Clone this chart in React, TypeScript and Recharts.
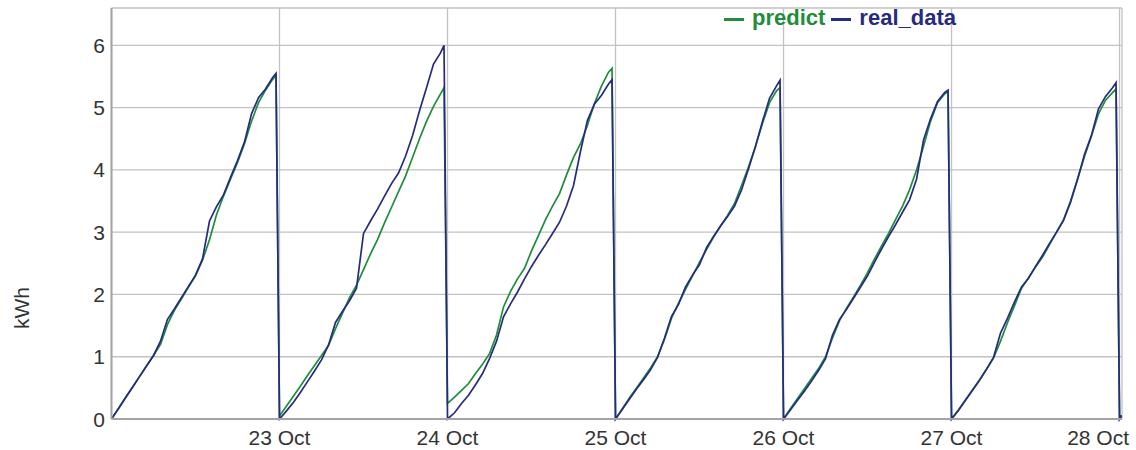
import { LineChart, Line, XAxis, YAxis, CartesianGrid } from "recharts";

// hours into each day where a reading was taken (last one just before midnight)
const hourOffsets = [
  0, 1, 2, 3, 4, 5, 6, 7, 8, 9, 10, 11, 12, 13, 14, 15, 16, 17, 18, 19, 20, 21,
  22, 23, 23.5,
];
const dayStarts = [0, 24, 48, 72, 96, 120];

const predict22 = [0, 0.17, 0.34, 0.51, 0.68, 0.85, 1.02, 1.2, 1.52, 1.75, 1.93, 2.12, 2.3, 2.55, 2.88, 3.28, 3.58, 3.85, 4.12, 4.42, 4.78, 5.08, 5.28, 5.45, 5.52];
const predict23 = [0.05, 0.21, 0.37, 0.53, 0.7, 0.86, 1.02, 1.18, 1.45, 1.7, 1.95, 2.15, 2.4, 2.65, 2.88, 3.15, 3.4, 3.65, 3.9, 4.2, 4.5, 4.78, 5.02, 5.22, 5.32];
const predict24 = [0.25, 0.35, 0.46, 0.57, 0.73, 0.88, 1.05, 1.35, 1.8, 2.05, 2.25, 2.42, 2.7, 2.95, 3.2, 3.42, 3.62, 3.92, 4.2, 4.42, 4.72, 5.07, 5.35, 5.57, 5.63];
const predict25 = [0, 0.17, 0.34, 0.5, 0.66, 0.82, 1.0, 1.28, 1.62, 1.86, 2.08, 2.3, 2.52, 2.72, 2.92, 3.1, 3.27, 3.46, 3.75, 4.05, 4.38, 4.75, 5.08, 5.27, 5.32];
const predict26 = [0, 0.17, 0.33, 0.49, 0.65, 0.81, 1.0, 1.3, 1.58, 1.78, 1.96, 2.15, 2.35, 2.57, 2.78, 2.98, 3.2, 3.42, 3.68, 4.0, 4.38, 4.78, 5.08, 5.22, 5.26];
const predict27 = [0, 0.15, 0.31, 0.47, 0.63, 0.8, 0.98, 1.25, 1.55, 1.82, 2.1, 2.27, 2.44, 2.6, 2.8, 3.0, 3.2, 3.5, 3.85, 4.22, 4.55, 4.9, 5.12, 5.24, 5.3];

const real22 = [0, 0.17, 0.34, 0.51, 0.68, 0.85, 1.02, 1.25, 1.6, 1.77, 1.95, 2.13, 2.31, 2.57, 3.18, 3.41, 3.6, 3.88, 4.15, 4.45, 4.9, 5.16, 5.3, 5.48, 5.55];
const real23 = [0, 0.13, 0.27, 0.43, 0.6, 0.77, 0.95, 1.19, 1.55, 1.73, 1.9, 2.1, 2.98, 3.18, 3.37, 3.58, 3.78, 3.95, 4.22, 4.55, 4.95, 5.32, 5.7, 5.88, 6.0];
const real24 = [0, 0.1, 0.25, 0.38, 0.55, 0.73, 0.97, 1.25, 1.64, 1.85, 2.04, 2.25, 2.45, 2.63, 2.8, 2.98, 3.16, 3.42, 3.75, 4.3, 4.8, 5.06, 5.2, 5.38, 5.45];
const real25 = [0, 0.16, 0.32, 0.48, 0.63, 0.79, 0.99, 1.3, 1.65, 1.84, 2.12, 2.31, 2.48, 2.75, 2.93, 3.1, 3.25, 3.42, 3.68, 4.02, 4.38, 4.78, 5.15, 5.35, 5.44];
const real26 = [0, 0.15, 0.3, 0.45, 0.61, 0.78, 0.97, 1.35, 1.6, 1.76, 1.94, 2.12, 2.3, 2.52, 2.73, 2.93, 3.12, 3.32, 3.52, 3.85, 4.48, 4.82, 5.1, 5.24, 5.28];
const real27 = [0, 0.14, 0.3, 0.46, 0.62, 0.8, 0.99, 1.38, 1.62, 1.88, 2.12, 2.26, 2.45, 2.63, 2.82, 3.0, 3.19, 3.48, 3.85, 4.25, 4.56, 4.98, 5.18, 5.32, 5.4];

// the reset at midnight on the 28th and the first reading after it
const tailHours = [144, 144.3];
const tailPredict = [0, 0.05];
const tailReal = [0, 0.06];

const dayTicks = [24, 48, 72, 96, 120, 144];
const dayLabels = ["23 Oct", "24 Oct", "25 Oct", "26 Oct", "27 Oct", "28 Oct"];
const kwhTicks = [0, 1, 2, 3, 4, 5, 6];

const predictDays = [predict22, predict23, predict24, predict25, predict26, predict27];
const realDays = [real22, real23, real24, real25, real26, real27];

const data: { h: number; predict: number; real_data: number }[] = [];
dayStarts.forEach((start, d) => {
  hourOffsets.forEach((off, i) => {
    data.push({ h: start + off, predict: predictDays[d][i], real_data: realDays[d][i] });
  });
});
tailHours.forEach((h, i) => {
  data.push({ h, predict: tailPredict[i], real_data: tailReal[i] });
});

const FONT = "'Liberation Sans', Arial, sans-serif";
const GREEN = "#1f8d3b";
const NAVY = "#272b7f";

function XTick({ x, payload }: any) {
  const idx = dayTicks.indexOf(payload.value);
  // last label would run off the edge, so pin it to the right side
  const last = idx === dayTicks.length - 1;
  return (
    <text
      x={last ? 1129 : x}
      y={445}
      textAnchor={last ? "end" : "middle"}
      fontSize={21}
      fill="#333"
      fontFamily={FONT}
    >
      {dayLabels[idx]}
    </text>
  );
}

function YTick({ y, payload }: any) {
  return (
    <text x={105} y={y} dy="0.36em" textAnchor="end" fontSize={21} fill="#333" fontFamily={FONT}>
      {payload.value}
    </text>
  );
}

const kwhLabel = () => (
  <text
    x={21}
    y={308}
    transform="rotate(-90, 21, 308)"
    dy="0.36em"
    textAnchor="middle"
    fontSize={21}
    fill="#333"
    fontFamily={FONT}
  >
    kWh
  </text>
);

export default function App() {
  return (
    <div style={{ position: "absolute", left: 0, top: 0, width: 1136, height: 450, background: "#fff" }}>
      <LineChart
        width={1136}
        height={450}
        data={data}
        margin={{ top: 8, right: 14, left: 0, bottom: 0 }}
      >
        <CartesianGrid stroke="#c2c2c2" strokeWidth={1.3} />
        <XAxis
          dataKey="h"
          type="number"
          domain={[0, 144.35]}
          ticks={dayTicks}
          tick={<XTick />}
          tickLine={false}
          axisLine={{ stroke: "#a4a4a4", strokeWidth: 2 }}
          height={31}
          allowDataOverflow
        />
        <YAxis
          type="number"
          domain={[0, 6.6]}
          ticks={kwhTicks}
          tick={<YTick />}
          tickLine={false}
          axisLine={{ stroke: "#a4a4a4", strokeWidth: 2 }}
          width={111.5}
          label={{ value: "kWh", content: kwhLabel }}
        />
        <Line
          type="linear"
          dataKey="predict"
          stroke={GREEN}
          strokeWidth={1.7}
          dot={false}
          isAnimationActive={false}
        />
        <Line
          type="linear"
          dataKey="real_data"
          stroke={NAVY}
          strokeWidth={1.7}
          dot={false}
          isAnimationActive={false}
        />
      </LineChart>
      <div
        style={{
          position: "absolute",
          left: 724,
          top: 5,
          fontFamily: FONT,
          fontSize: 22,
          fontWeight: "bold",
          whiteSpace: "nowrap",
          lineHeight: "26px",
        }}
      >
        <span style={{ color: GREEN }}>
          <span style={{ display: "inline-block", width: 20, height: 3, background: GREEN, verticalAlign: "middle", marginRight: 8 }} />
          predict
        </span>
        <span style={{ color: NAVY, marginLeft: 6 }}>
          <span style={{ display: "inline-block", width: 20, height: 3, background: NAVY, verticalAlign: "middle", marginRight: 8 }} />
          real_data
        </span>
      </div>
    </div>
  );
}
